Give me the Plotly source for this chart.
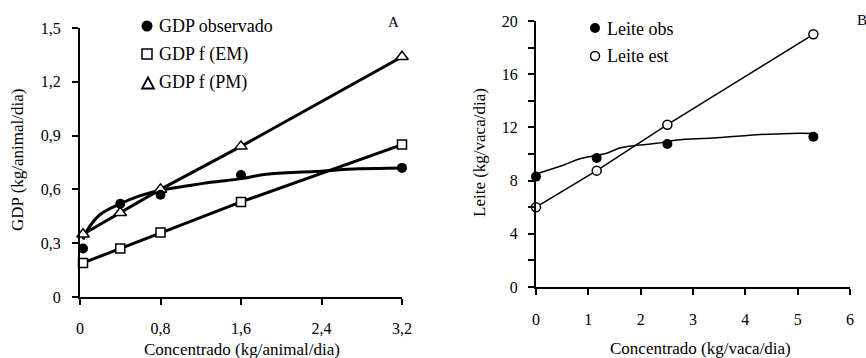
import plotly.graph_objects as go

W, H = 866, 358
FONT = "Times New Roman, Liberation Serif, Tinos, serif"

# ---------------- Panel A data ----------------
conc_a = [0.03, 0.4, 0.8, 1.6, 3.2]
gdp_obs = [0.27, 0.52, 0.57, 0.68, 0.72]
gdp_em = [0.19, 0.27, 0.36, 0.53, 0.85]
gdp_pm = [0.35, 0.47, 0.60, 0.84, 1.34]
gdp_fit_x = [0.03, 0.07, 0.2, 0.4, 0.6, 0.8, 1.07, 1.3, 1.6, 1.85, 2.33, 2.77, 3.2]
gdp_fit_y = [0.32, 0.37, 0.46, 0.52, 0.565, 0.595, 0.62, 0.64, 0.66, 0.685, 0.70, 0.715, 0.72]
a_xticks = [0, 0.8, 1.6, 2.4, 3.2]
a_xtext = ["0", "0,8", "1,6", "2,4", "3,2"]
a_yticks = [0, 0.3, 0.6, 0.9, 1.2, 1.5]
a_ytext = ["0", "0,3", "0,6", "0,9", "1,2", "1,5"]

# ---------------- Panel B data ----------------
conc_b = [0, 1.16, 2.51, 5.3]
leite_obs = [8.3, 9.7, 10.75, 11.3]
leite_est = [6.0, 8.75, 12.2, 19.0]
leite_fit_x = [0, 0.52, 0.84, 1.16, 1.38, 1.6, 1.92, 2.31, 2.69, 3.38, 4.22, 4.86, 5.3]
leite_fit_y = [8.5, 9.15, 9.65, 9.9, 10.1, 10.45, 10.65, 10.8, 11.05, 11.2, 11.45, 11.55, 11.55]
b_xticks = [0, 1, 2, 3, 4, 5, 6]
b_yticks = [0, 4, 8, 12, 16, 20]


def px(x):
    return x / W


def py(y):
    return 1 - y / H


fig = go.Figure()

# Panel A
fig.add_trace(go.Scatter(x=gdp_fit_x, y=gdp_fit_y, mode="lines", line=dict(color="black", width=3, shape="spline"),
                         xaxis="x", yaxis="y", showlegend=False, cliponaxis=False))
fig.add_trace(go.Scatter(x=conc_a, y=gdp_em, mode="lines+markers", line=dict(color="black", width=3),
                         marker=dict(symbol="square", size=9, color="white", line=dict(color="black", width=1.5)),
                         xaxis="x", yaxis="y", showlegend=False, cliponaxis=False))
fig.add_trace(go.Scatter(x=conc_a, y=gdp_pm, mode="lines+markers", line=dict(color="black", width=3),
                         marker=dict(symbol="triangle-up", size=11, color="white", line=dict(color="black", width=1.5)),
                         xaxis="x", yaxis="y", showlegend=False, cliponaxis=False))
fig.add_trace(go.Scatter(x=conc_a, y=gdp_obs, mode="markers",
                         marker=dict(symbol="circle", size=10, color="black"),
                         xaxis="x", yaxis="y", showlegend=False, cliponaxis=False))

# Panel B
fig.add_trace(go.Scatter(x=leite_fit_x, y=leite_fit_y, mode="lines", line=dict(color="black", width=1.5, shape="spline"),
                         xaxis="x2", yaxis="y2", showlegend=False, cliponaxis=False))
fig.add_trace(go.Scatter(x=conc_b, y=leite_est, mode="lines+markers", line=dict(color="black", width=1.5),
                         marker=dict(symbol="circle", size=9, color="white", line=dict(color="black", width=1.5)),
                         xaxis="x2", yaxis="y2", showlegend=False, cliponaxis=False))
fig.add_trace(go.Scatter(x=conc_b, y=leite_obs, mode="markers",
                         marker=dict(symbol="circle", size=10, color="black"),
                         xaxis="x2", yaxis="y2", showlegend=False, cliponaxis=False))

axis_common = dict(showgrid=False, zeroline=False, showline=True, linecolor="black", linewidth=2,
                   ticks="outside", ticklen=6, tickwidth=1.5, tickcolor="black", automargin=False,
                   tickfont=dict(family=FONT, size=16, color="black"), fixedrange=True)

fig.update_layout(
    width=W, height=H,
    margin=dict(l=0, r=0, t=0, b=0, autoexpand=False),
    paper_bgcolor="white", plot_bgcolor="white",
    showlegend=False,
    font=dict(family=FONT, color="black"),
    xaxis=dict(axis_common, domain=[px(80), px(402)], range=[0, 3.2], anchor="y",
               tickvals=a_xticks, ticktext=a_xtext, ticklabelstandoff=10),
    yaxis=dict(axis_common, domain=[py(297), py(28)], range=[0, 1.5], anchor="x",
               tickvals=a_yticks, ticktext=a_ytext, ticklabelstandoff=8),
    xaxis2=dict(axis_common, domain=[px(536), px(850)], range=[0, 6], anchor="y2",
                tickvals=b_xticks, ticklabelstandoff=11),
    yaxis2=dict(axis_common, domain=[py(287), py(21)], range=[0, 20], anchor="x2",
                tickvals=b_yticks, ticklabelstandoff=7,
                minor=dict(dtick=2, ticks="outside", ticklen=6, tickwidth=1.5, tickcolor="black")),
)

ann_font = dict(family=FONT, size=17, color="black")
annotations = [
    dict(text="Concentrado (kg/animal/dia)", x=px(242), y=py(349), xref="paper", yref="paper",
         xanchor="center", yanchor="middle", showarrow=False, font=ann_font),
    dict(text="GDP (kg/animal/dia)", x=px(17), y=py(160), xref="paper", yref="paper",
         xanchor="center", yanchor="middle", showarrow=False, font=ann_font, textangle=-90),
    dict(text="Concentrado (kg/vaca/dia)", x=px(700), y=py(348), xref="paper", yref="paper",
         xanchor="center", yanchor="middle", showarrow=False, font=ann_font),
    dict(text="Leite (kg/vaca/dia)", x=px(479), y=py(153), xref="paper", yref="paper",
         xanchor="center", yanchor="middle", showarrow=False, font=ann_font, textangle=-90),
    dict(text="A", x=px(393), y=py(22), xref="paper", yref="paper",
         xanchor="center", yanchor="middle", showarrow=False, font=dict(family=FONT, size=15, color="black")),
    dict(text="B", x=px(855), y=py(20), xref="paper", yref="paper",
         xanchor="left", yanchor="middle", showarrow=False, font=dict(family=FONT, size=15, color="black")),
]

leg_font = dict(family=FONT, size=18, color="black")
legend_items = [
    ("GDP observado", 157, 26),
    ("GDP f (EM)", 157, 54),
    ("GDP f (PM)", 157, 82),
    ("Leite obs", 605, 29),
    ("Leite est", 605, 56),
]
for txt, lx, ly in legend_items:
    annotations.append(dict(text=txt, x=px(lx), y=py(ly), xref="paper", yref="paper",
                            xanchor="left", yanchor="middle", showarrow=False, font=leg_font))
fig.update_layout(annotations=annotations)

shape_common = dict(xref="paper", yref="paper", xsizemode="pixel", ysizemode="pixel")
shapes = [
    dict(shape_common, type="circle", xanchor=px(147), yanchor=py(26), x0=-5.5, x1=5.5, y0=-5.5, y1=5.5,
         fillcolor="black", line=dict(width=0)),
    dict(shape_common, type="rect", xanchor=px(147), yanchor=py(54), x0=-5, x1=5, y0=-5, y1=5,
         fillcolor="white", line=dict(color="black", width=1.5)),
    dict(shape_common, type="path", xanchor=px(148), yanchor=py(83), path="M -6,-5.5 L 6,-5.5 L 0,5.5 Z",
         fillcolor="white", line=dict(color="black", width=1.8)),
    dict(shape_common, type="circle", xanchor=px(595), yanchor=py(28), x0=-5, x1=5, y0=-5, y1=5,
         fillcolor="black", line=dict(width=0)),
    dict(shape_common, type="circle", xanchor=px(595), yanchor=py(56), x0=-4.5, x1=4.5, y0=-4.5, y1=4.5,
         fillcolor="white", line=dict(color="black", width=1.5)),
]
fig.update_layout(shapes=shapes)

fig.write_html("out.html", config={"displayModeBar": False},
               post_script="document.body.style.margin='0px';document.body.style.padding='0px';")
